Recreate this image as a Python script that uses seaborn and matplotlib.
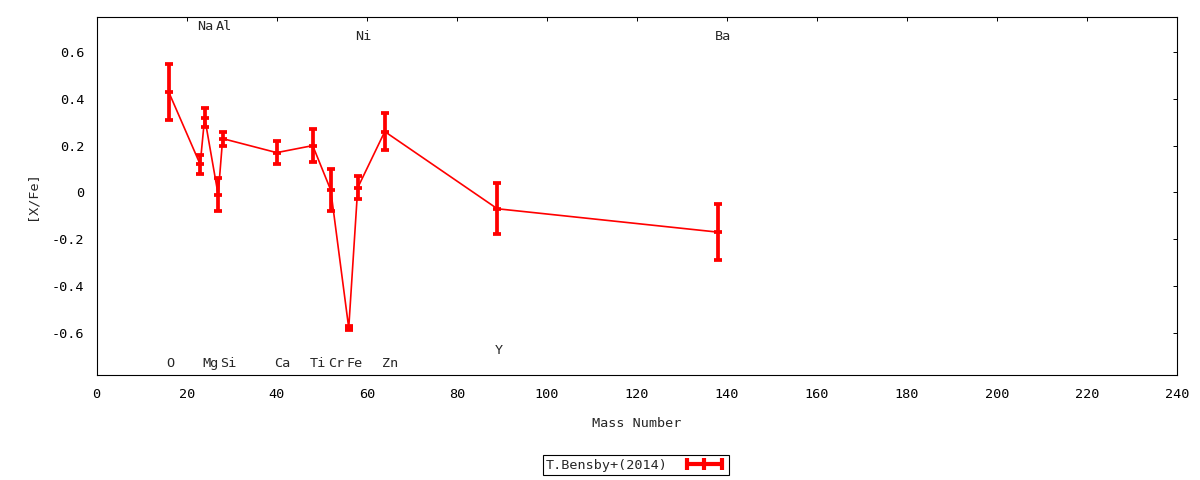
import numpy as np
import pandas as pd
import matplotlib
matplotlib.use("Agg")
import matplotlib.pyplot as plt
import seaborn as sns
from matplotlib.lines import Line2D

# T.Bensby+(2014) abundances vs mass number
elements = ["O", "Na", "Mg", "Al", "Si", "Ca", "Ti", "Cr", "Fe", "Ni", "Zn", "Y", "Ba"]
mass = [16, 23, 24, 27, 28, 40, 48, 52, 56, 58, 64, 89, 138]
xfe = [0.43, 0.12, 0.32, -0.01, 0.23, 0.17, 0.20, 0.01, -0.58, 0.02, 0.26, -0.07, -0.17]
err = [0.12, 0.04, 0.04, 0.07, 0.03, 0.05, 0.07, 0.09, 0.01, 0.05, 0.08, 0.11, 0.12]
# vertical level of each element label
label_y = [-0.73, 0.71, -0.73, 0.71, -0.73, -0.73, -0.73, -0.73, -0.73, 0.665, -0.73, -0.675, 0.665]

df = pd.DataFrame({"mass": mass, "xfe": xfe, "err": err})

sns.set_style("white")
plt.rcParams["font.family"] = ["DejaVu Sans Mono", "DejaVu Sans"]
plt.rcParams["font.size"] = 9.7

fig = plt.figure(figsize=(12, 4.8), dpi=100)
ax = fig.add_axes([0.0805, 0.2187, 0.9005, 0.7459])

red = "#ff0000"
sns.lineplot(data=df, x="mass", y="xfe", color=red, linewidth=1.2, sort=False,
             legend=False, ax=ax)
ax.errorbar(df["mass"], df["xfe"], yerr=df["err"], fmt="none", ecolor=red,
            elinewidth=2.7, capsize=3.0, capthick=2.7)
ax.plot(df["mass"], df["xfe"], ls="none", marker="_", ms=6.2, mew=2.7, color=red)

for el, m, ly in zip(elements, mass, label_y):
    ax.text(m - 0.6, ly, el, ha="left", va="center")

ax.set_xlim(0, 240)
ax.set_ylim(-0.781, 0.75)
ax.set_xticks(np.arange(0, 241, 20))
ax.set_yticks([-0.6, -0.4, -0.2, 0, 0.2, 0.4, 0.6])
ax.set_yticklabels(["-0.6", "-0.4", "-0.2", "0", "0.2", "0.4", "0.6"])
ax.tick_params(direction="in", length=3, width=0.7, top=True, right=True,
               labelsize=9.7, pad=9, colors="black")
for s in ax.spines.values():
    s.set_linewidth(0.8)
    s.set_color("black")

ax.set_xlabel("Mass Number")
ax.set_ylabel("[X/Fe]")
ax.xaxis.set_label_coords(0.5, -0.118)
ax.yaxis.set_label_coords(-0.054, 0.5)
ax.grid(False)

handle = Line2D([], [], color=red, lw=3, marker="|", ms=8, mew=3)
leg = fig.legend([handle], ["T.Bensby+(2014)"], loc="center",
                 bbox_to_anchor=(0.53, 0.031), numpoints=3, markerfirst=False,
                 handlelength=3.2, handletextpad=1.1, fancybox=False, framealpha=1,
                 edgecolor="black", borderpad=0.25)
leg.get_frame().set_linewidth(0.8)

fig.savefig("out.png", dpi=100)
